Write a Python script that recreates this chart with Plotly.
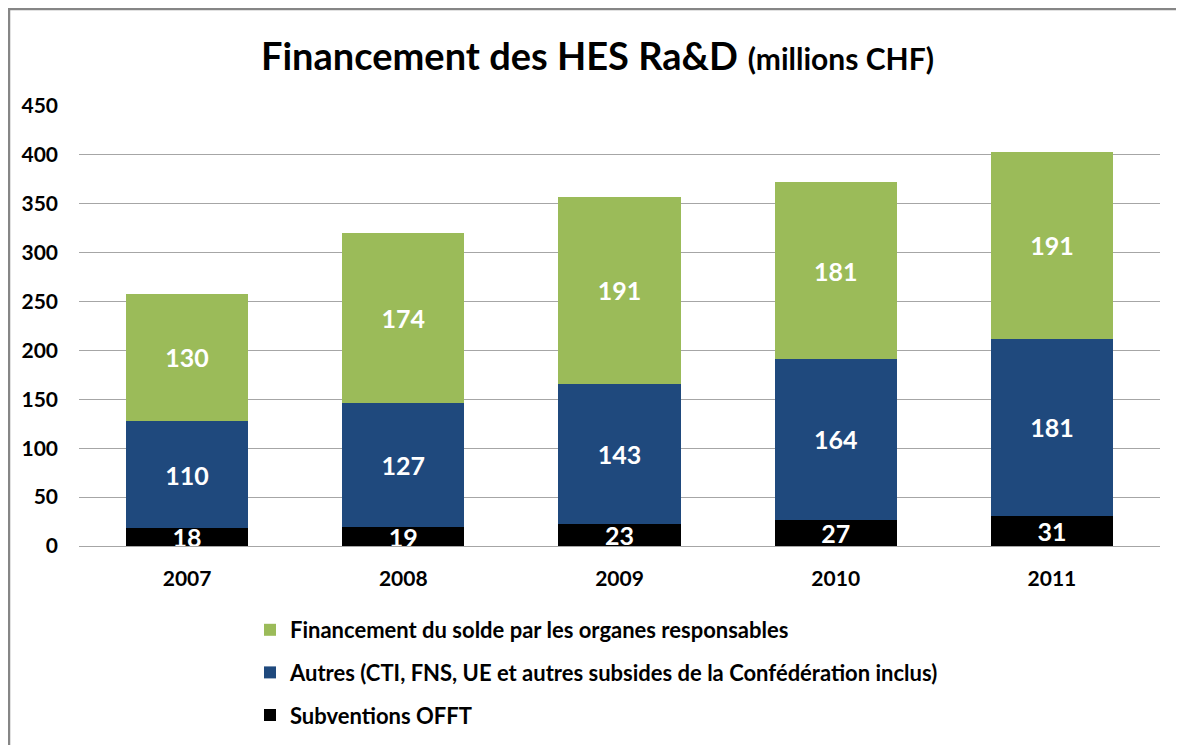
import plotly.graph_objects as go

years = ["2007", "2008", "2009", "2010", "2011"]
offt = [18, 19, 23, 27, 31]
autres = [110, 127, 143, 164, 181]
solde = [130, 174, 191, 181, 191]

names = ["Subventions OFFT",
         "Autres (CTI, FNS, UE et autres subsides de la Confédération inclus)",
         "Financement du solde par les organes responsables"]
colors = ["#000000", "#1F497D", "#9BBB59"]
ranks = [3, 2, 1]

FONT = "Lato"
# page is offset by the browser's 8px body margin
OFF = 8
W, H = 1184 - OFF, 745 - OFF
L, R = 79 - OFF, 24
PW = W - L - R


def px(xp):  # page x -> paper x
    return (xp - OFF - L) / PW


def py(yp):  # page y -> paper y
    return 1 - (yp - OFF) / H


fig = go.Figure()
for i, (vals, name, col) in enumerate(zip([offt, autres, solde], names, colors)):
    fig.add_trace(go.Bar(
        x=years, y=vals, name=name, marker=dict(color=col, line=dict(width=0)),
        text=vals, texttemplate="<b>%{text}</b>", textposition="inside",
        insidetextanchor="middle", constraintext="none", textangle=0,
        cliponaxis=True,
        textfont=dict(color="white", size=25, family=FONT),
        legendgroup=str(i), legendrank=ranks[i],
    ))

fig.update_layout(
    width=W, height=H,
    barmode="stack", bargap=0.435,
    paper_bgcolor="white", plot_bgcolor="white",
    margin=dict(l=L, r=R, t=0, b=0, autoexpand=False),
    font=dict(family=FONT, color="#000000"),
    showlegend=True,
    legend=dict(
        orientation="v",
        x=px(250), xanchor="left", y=py(609), yanchor="top",
        traceorder="grouped", tracegroupgap=11,
        font=dict(size=22, family=FONT, color="#000", weight="bold"),
        itemwidth=30,
    ),
    yaxis=dict(domain=[py(546), py(106)],
               range=[0, 450], dtick=50, showgrid=True, gridcolor="#A6A6A6",
               gridwidth=1, zeroline=False, showline=False,
               tickfont=dict(size=21, family=FONT, color="#000", weight="bold"),
               ticklabelstandoff=20),
    xaxis=dict(showline=True, linecolor="#A6A6A6", linewidth=1,
               tickfont=dict(size=21, family=FONT, color="#000", weight="bold"),
               ticklabelstandoff=14, ticks=""),
)

fig.add_annotation(
    text="<b>Financement des HES Ra&amp;D</b> <b><span style='font-size:30px'>(millions CHF)</span></b>",
    xref="paper", yref="paper", x=px(597), y=py(55),
    xanchor="center", yanchor="middle",
    showarrow=False, font=dict(size=38, family=FONT, color="#000"),
)

fig.add_shape(type="rect", xref="paper", yref="paper",
              x0=px(OFF + 1), x1=px(1195), y0=-0.02, y1=py(OFF + 1),
              line=dict(color="#868686", width=2.5), layer="above")

fig.write_html("out.html")
